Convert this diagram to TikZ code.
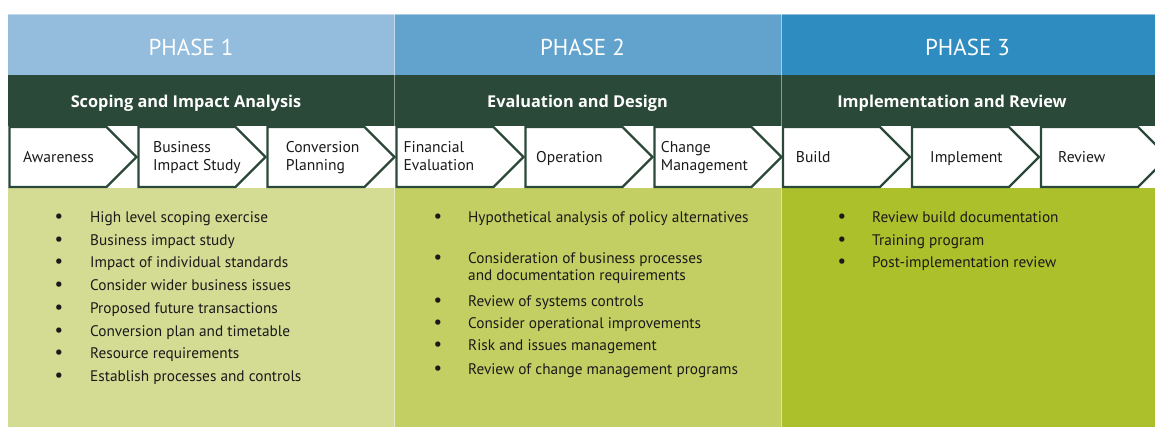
\documentclass[tikz,border=0pt]{standalone}
\usepackage{fontspec}
\setmainfont{PT Sans}
\newfontfamily\bandfont{Open Sans}
\definecolor{phA}{HTML}{94BCDC}
\definecolor{phB}{HTML}{62A3CD}
\definecolor{phC}{HTML}{2F8CC0}
\definecolor{band}{HTML}{2B4939}
\definecolor{bodyA}{HTML}{D4DC94}
\definecolor{bodyB}{HTML}{C3CF63}
\definecolor{bodyC}{HTML}{ABC02B}
\definecolor{ink}{HTML}{1A1A1A}
\begin{document}
\begin{tikzpicture}[x=1pt,y=-1pt,
  phasetitle/.style={anchor=base, inner sep=0pt, text=white, font=\fontsize{23}{26}\selectfont},
  bandtitle/.style={anchor=base, inner sep=0pt, text=white, font=\bandfont\bfseries\fontsize{16.3}{18}\selectfont},
  chevron/.style={draw=band, line width=2.4pt, fill=white, line join=miter},
  steplabel/.style={anchor=base west, inner sep=0pt, text=ink, font=\fontsize{15.6}{18}\selectfont},
  bulletmark/.style={anchor=base, inner sep=0pt, text=ink, font=\fontsize{19}{18}\selectfont},
  itemtext/.style={anchor=base west, inner sep=0pt, text=ink, font=\fontsize{15.3}{18}\selectfont},
  divider/.style={draw=white, draw opacity=0.45, line width=1pt}]
\useasboundingbox (0,0) rectangle (1155,427);
\clip (0,0) rectangle (1155,427);

% phase header bars
\fill[phA] (8,14) rectangle (394.5,75);
\fill[phB] (394.5,14) rectangle (781.5,75);
\fill[phC] (781.5,14) rectangle (1168,75);
% dark title band
\fill[band] (8,75) rectangle (1168,126);
% body panels
\fill[bodyA] (8,188) rectangle (394.5,427);
\fill[bodyB] (394.5,188) rectangle (781.5,427);
\fill[bodyC] (781.5,188) rectangle (1168,427);
% thin column dividers
\draw[divider] (394.5,14) -- (394.5,427);
\draw[divider] (781.5,14) -- (781.5,427);
\draw[divider] (8,14.5) -- (1168,14.5);

% phase titles
\node[phasetitle] (p1) at (191,56) {PHASE 1};
\node[phasetitle] (p2) at (582.5,56) {PHASE 2};
\node[phasetitle] (p3) at (967.5,56) {PHASE 3};

\node[bandtitle] (s1) at (186,107.3) {Scoping and Impact Analysis};
\node[bandtitle] (s2) at (577.5,107.3) {Evaluation and Design};
\node[bandtitle] (s3) at (952,107.3) {Implementation and Review};

% step chevrons: left edge, 127 wide including the point
\foreach \L in {9.5,138.5,267.5,396.5,525.5,654.5,783,912,1041}{
  \draw[chevron] (\L,127) -- ++(97,0) -- ++(30,30) -- ++(-30,30) -- (\L,187) -- cycle;
}

% step labels
\node[steplabel] (a1) at (23,162.3) {Awareness};
\node[steplabel] (a2) at (153,152.7) {Business};
\node[steplabel] (a2b) at (153,170.7) {Impact Study};
\node[steplabel] (a3) at (285.7,152.7) {Conversion};
\node[steplabel] (a3b) at (285.7,170.7) {Planning};
\node[steplabel] (b1) at (403.3,152.7) {Financial};
\node[steplabel] (b1b) at (403.3,170.7) {Evaluation};
\node[steplabel] (b2) at (536,162.3) {Operation};
\node[steplabel] (b3) at (660.7,152.7) {Change};
\node[steplabel] (b3b) at (660.7,170.7) {Management};
\node[steplabel] (c1) at (795.7,162.3) {Build};
\node[steplabel] (c2) at (930,162.3) {Implement};
\node[steplabel] (c3) at (1058,162.3) {Review};

% phase 1 activities
\foreach \t [count=\i] in {High level scoping exercise, Business impact study,
  Impact of individual standards, Consider wider business issues,
  Proposed future transactions, Conversion plan and timetable,
  Resource requirements, Establish processes and controls}{
  \node[bulletmark] (ma\i) at (59,{222.3+(\i-1)*22.76}) {•};
  \node[itemtext] (ia\i) at (90,{222.3+(\i-1)*22.76}) {\t};
}

% phase 2 activities
\node[bulletmark] (mb1) at (438,222.3) {•};
\node[itemtext] (ib1) at (468,222.3) {Hypothetical analysis of policy alternatives};
\node[bulletmark] (mb2) at (438,263.5) {•};
\node[itemtext] (ib2) at (468,263.5) {Consideration of business processes};
\node[itemtext] (ib2b) at (468,280.5) {and documentation requirements};
\node[bulletmark] (mb3) at (438,306) {•};
\node[itemtext] (ib3) at (468,306) {Review of systems controls};
\node[bulletmark] (mb4) at (438,328) {•};
\node[itemtext] (ib4) at (468,328) {Consider operational improvements};
\node[bulletmark] (mb5) at (438,350.3) {•};
\node[itemtext] (ib5) at (468,350.3) {Risk and issues management};
\node[bulletmark] (mb6) at (438,374) {•};
\node[itemtext] (ib6) at (468,374) {Review of change management programs};

% phase 3 activities
\foreach \t [count=\i] in {Review build documentation, Training program,
  Post-implementation review}{
  \node[bulletmark] (mc\i) at (842,{222.3+(\i-1)*22.76}) {•};
  \node[itemtext] (ic\i) at (872,{222.3+(\i-1)*22.76}) {\t};
}
\end{tikzpicture}
\end{document}
